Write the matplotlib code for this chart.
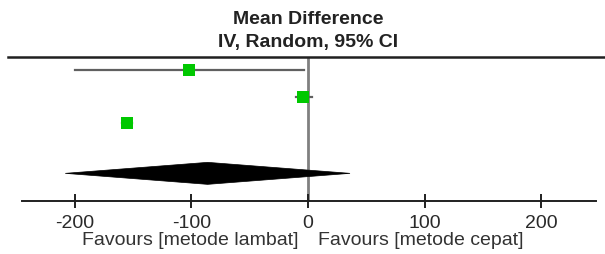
import numpy as np
import matplotlib
matplotlib.use("Agg")
import matplotlib.pyplot as plt
from matplotlib.lines import Line2D
from matplotlib.patches import Polygon

plt.rcParams['font.family'] = ['Liberation Sans', 'DejaVu Sans']

# study estimates (mean difference with 95% CI)
md = [-102, -4, -155]
ci_low = [-200, -10, -159]
ci_high = [-3, 3, -151]
weights = [1.0, 1.1, 1.0]

# pooled estimate (random effects)
pooled_md = -86
pooled_low = -208
pooled_high = 36

xticks = [-200, -100, 0, 100, 200]
favours_left = 'Favours [metode lambat]'
favours_right = 'Favours [metode cepat]'

W, H = 605, 255
fig = plt.figure(figsize=(W / 100, H / 100), dpi=100)

# axes placed in pixel terms: x 22..596, y 58..202 (from top)
ax = fig.add_axes([22 / W, 1 - 202 / H, (596 - 22) / W, (202 - 58) / H])
px_per_unit = 1.167
ax.set_xlim(-(308 - 22) / px_per_unit, (596 - 308) / px_per_unit)
row_px = 26.5
ax.set_ylim((202 - 71) / row_px, -(71 - 58) / row_px)

for s in ['top', 'left', 'right']:
    ax.spines[s].set_visible(False)
ax.spines['bottom'].set_linewidth(1.4)
ax.spines['bottom'].set_color('#202020')
ax.set_yticks([])
ax.set_xticks(xticks)
ax.set_xticklabels([str(t) for t in xticks])
ax.tick_params(axis='x', direction='inout', length=10, width=1.4, color='#202020',
               labelsize=14, pad=4.5, labelcolor='#2a2a2a')

ax.axvline(0, color='#808080', lw=2, zorder=1)

for i in range(len(md)):
    ax.plot([ci_low[i], ci_high[i]], [i, i], color='#606060', lw=1.6, zorder=2)
    ax.plot(md[i], i, marker='s', color='#00c800', markersize=8 * weights[i],
            markeredgewidth=0, zorder=3)

yd = 3.9
hd = 11 / row_px
diamond = Polygon([[pooled_low, yd], [pooled_md, yd - hd], [pooled_high, yd], [pooled_md, yd + hd]],
                  closed=True, facecolor='black', edgecolor='black', lw=0.5, zorder=4)
ax.add_patch(diamond)

# top rule
fig.add_artist(Line2D([8 / W, 1], [1 - 58 / H, 1 - 58 / H], color='#202020', lw=1.8))

fig.text(308 / W, 1 - 19 / H, 'Mean Difference', ha='center', va='center',
         fontsize=14, fontweight='bold', color='#222222')
fig.text(308 / W, 1 - 43 / H, 'IV, Random, 95% CI', ha='center', va='center',
         fontsize=14, fontweight='bold', color='#222222')

fig.text(299 / W, 1 - 241 / H, favours_left, ha='right', va='center', fontsize=14, color='#333333')
fig.text(318 / W, 1 - 241 / H, favours_right, ha='left', va='center', fontsize=14, color='#333333')

fig.savefig('out.png', dpi=100)
